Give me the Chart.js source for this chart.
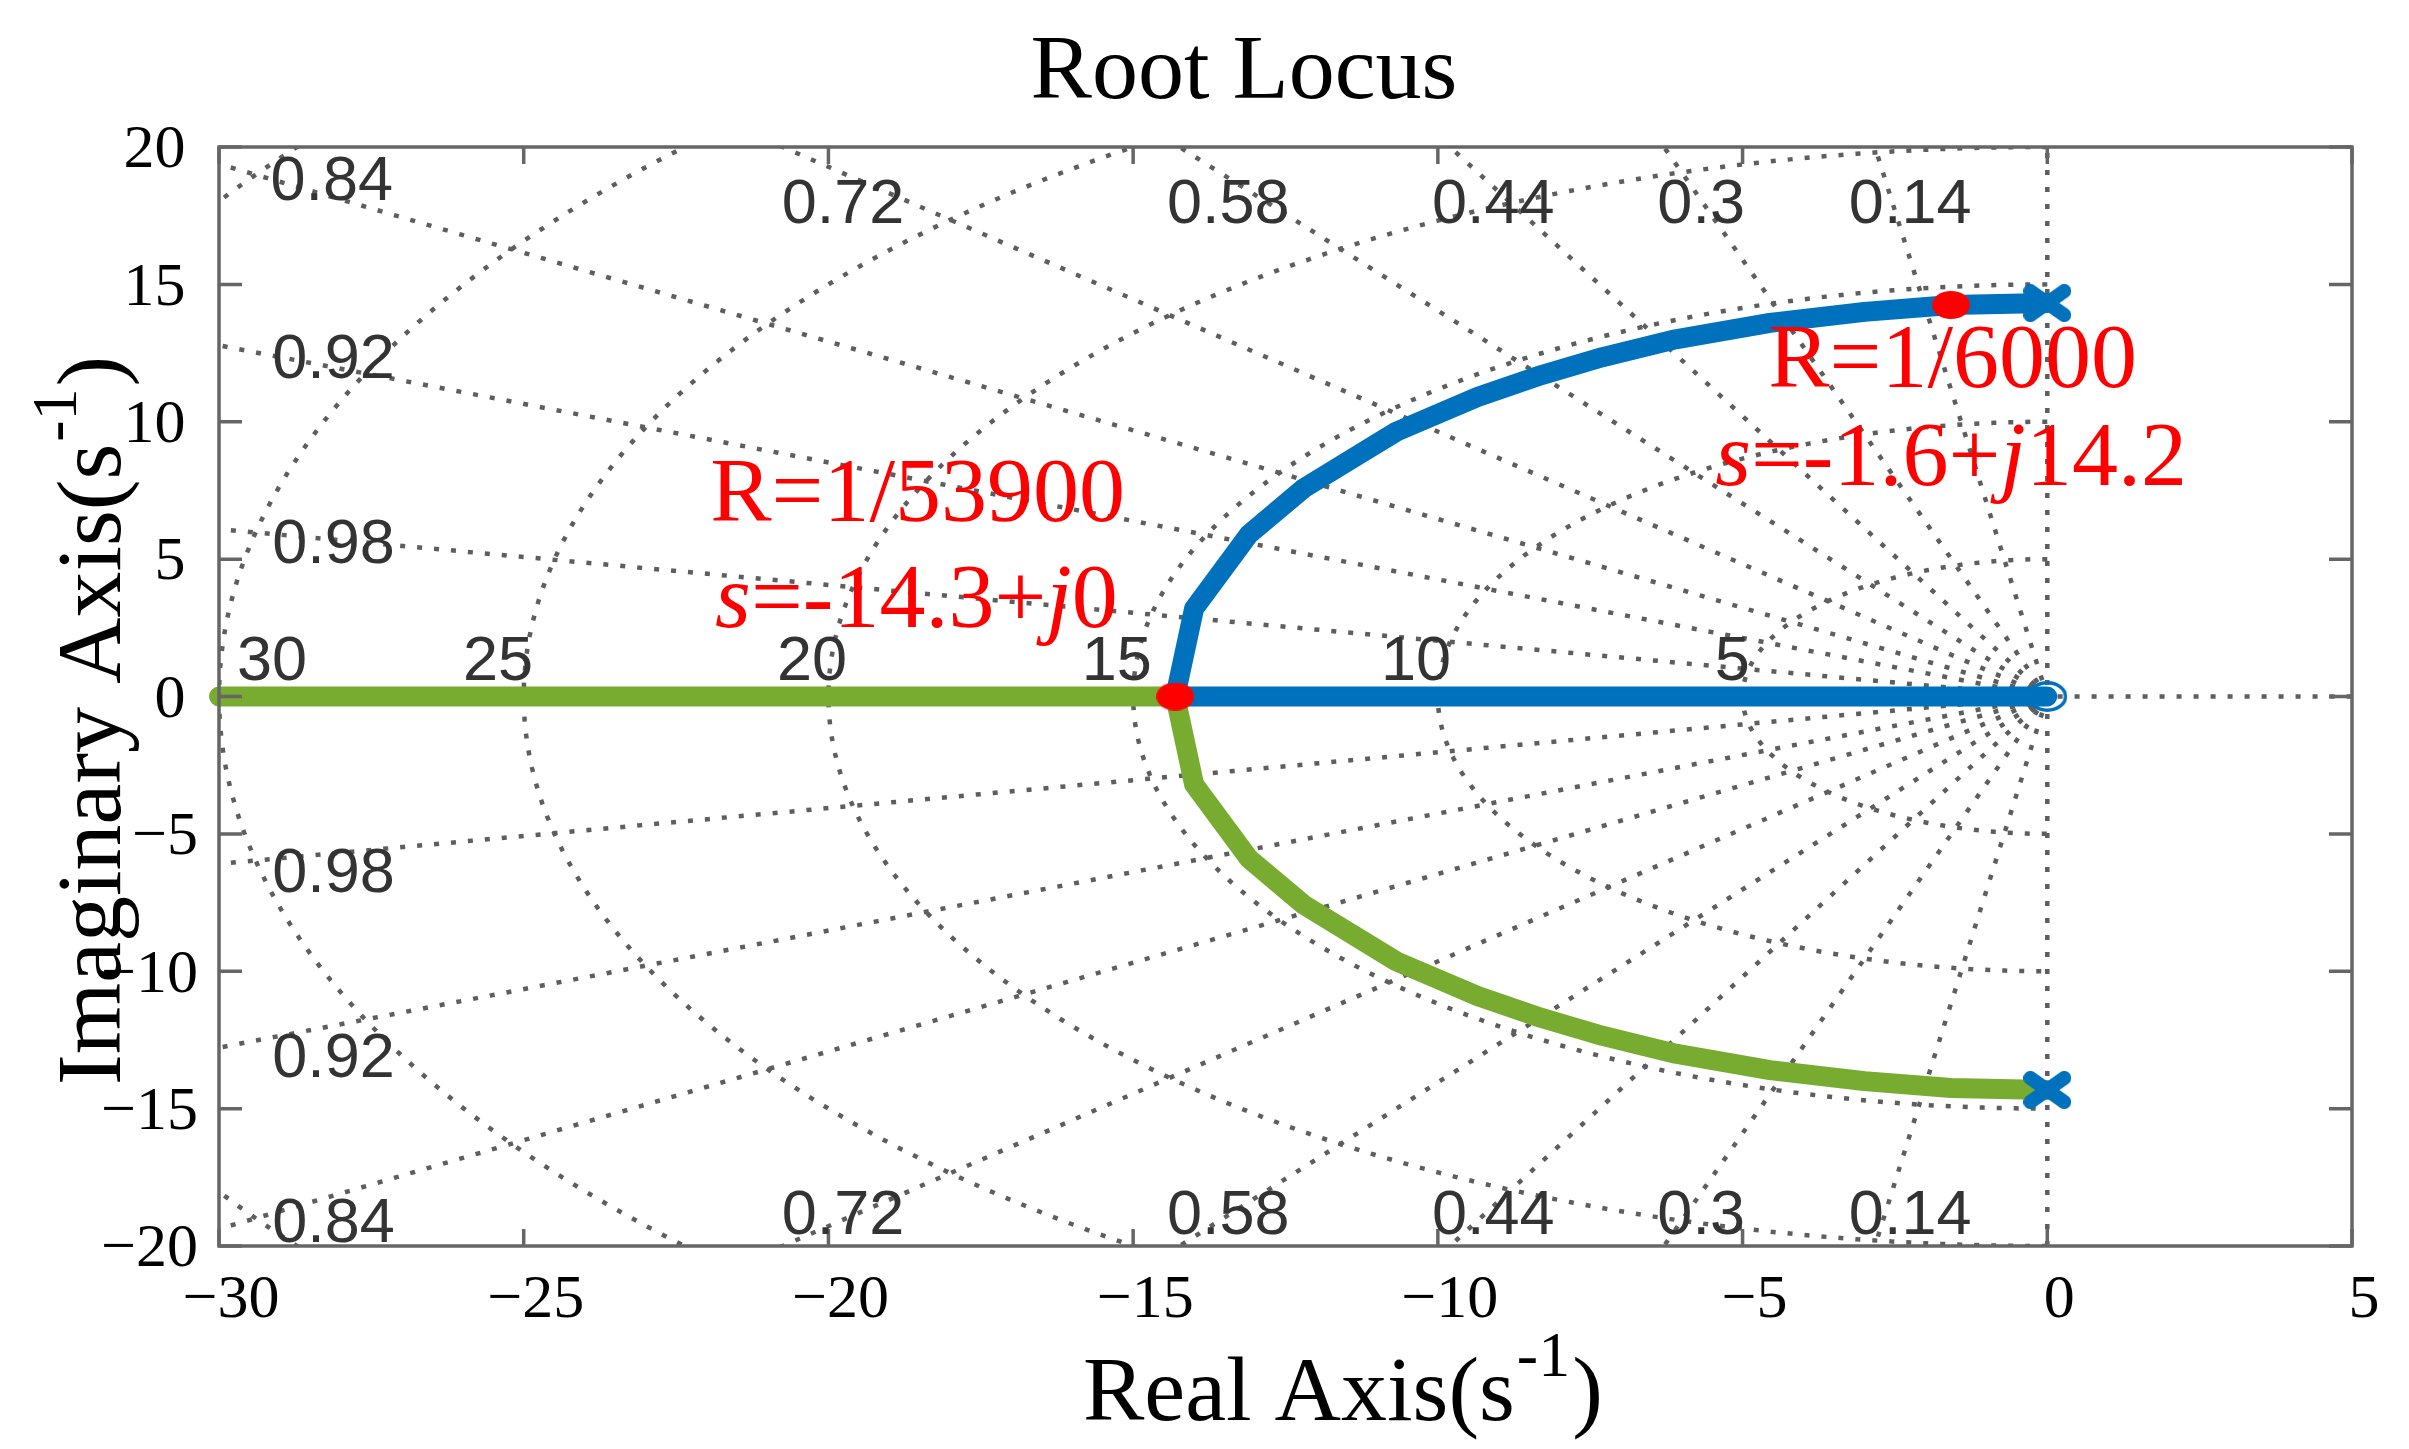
<!DOCTYPE html>
<html>
<head>
<meta charset="utf-8">
<script src="https://cdn.jsdelivr.net/npm/chart.js@4.4.1/dist/chart.umd.min.js"></script>
<style>
  html, body { margin: 0; padding: 0; background: #ffffff; overflow: hidden; }
  #wrap { width: 2409px; height: 1449px; position: relative; }
</style>
</head>
<body>
<div id="wrap"><canvas id="c"></canvas></div>
<script>
// ---------------- data ----------------
const xTicks = [-30, -25, -20, -15, -10, -5, 0, 5];
const yTicks = [-20, -15, -10, -5, 0, 5, 10, 15, 20];

// upper branch: pole (0, +j14.32) -> breakaway (-14.31, 0)
const upperBranchRe = [0, -1.58, -3.0, -4.55, -6.1, -7.3, -8.3, -9.35, -10.68, -12.2, -13.1, -14.0, -14.31];
const upperBranchIm = [14.32, 14.25, 14.0, 13.6, 13.0, 12.35, 11.7, 10.9, 9.64, 7.58, 5.9, 3.2, 0];
// lower branch: pole (0, -j14.32) -> breakaway (-14.31, 0)
const lowerBranchRe = [0, -1.58, -3.0, -4.55, -6.1, -7.3, -8.3, -9.35, -10.68, -12.2, -13.1, -14.0, -14.31];
const lowerBranchIm = [-14.32, -14.25, -14.0, -13.6, -13.0, -12.35, -11.7, -10.9, -9.64, -7.58, -5.9, -3.2, 0];
// real-axis parts
const blueRealRe = [-14.31, 0];
const blueRealIm = [0, 0];
const greenRealRe = [-14.31, -30];
const greenRealIm = [0, 0];
// poles, zero, marked points
const poleRe = [0, 0];
const poleIm = [14.32, -14.32];
const zeroRe = [0];
const zeroIm = [0];
const markedRe = [-1.58, -14.31];
const markedIm = [14.25, 0];
// s-plane grid
const wnValues = [5, 10, 15, 20, 25, 30, 35];
const zetaValues = [0.14, 0.3, 0.44, 0.58, 0.72, 0.84, 0.92, 0.98];

// ---------------- styles ----------------
const SERIF = '"Liberation Serif", "Times New Roman", serif';
const SANS = '"Liberation Sans", Arial, sans-serif';
const BLUE = '#0072BD';
const GREEN = '#77AC30';
const RED = '#FF0000';
const GRID = '#5e5e5e';
const BOX = '#666666';

function pts(re, im) { return re.map((v, i) => ({ x: v, y: im[i] })); }

// grid geometry
function circlePts(r) {
  const out = [];
  for (let k = 0; k <= 180; k++) {
    const a = Math.PI / 2 + Math.PI * k / 180;
    out.push({ x: r * Math.cos(a), y: r * Math.sin(a) });
  }
  return out;
}
function rayPts(z, sign) {
  const L = 60;
  return [{ x: 0, y: 0 }, { x: -z * L, y: sign * Math.sqrt(1 - z * z) * L }];
}

// marker images
function ellipseDot(w, h, color) {
  const c = document.createElement('canvas'); c.width = w; c.height = h;
  const g = c.getContext('2d');
  g.fillStyle = color; g.beginPath(); g.ellipse(w / 2, h / 2, w / 2, h / 2, 0, 0, Math.PI * 2); g.fill();
  return c;
}
function ringMarker(w, h, lw, color) {
  const c = document.createElement('canvas'); c.width = w; c.height = h;
  const g = c.getContext('2d');
  g.strokeStyle = color; g.lineWidth = lw; g.beginPath();
  g.ellipse(w / 2, h / 2, w / 2 - lw / 2, h / 2 - lw / 2, 0, 0, Math.PI * 2); g.stroke();
  return c;
}
function crossMarker(w, h, lw, color) {
  const c = document.createElement('canvas'); c.width = w; c.height = h;
  const g = c.getContext('2d');
  g.strokeStyle = color; g.lineWidth = lw; g.lineCap = 'round';
  const i = lw / 2;
  g.beginPath(); g.moveTo(i, i); g.lineTo(w - i, h - i); g.moveTo(w - i, i); g.lineTo(i, h - i); g.stroke();
  return c;
}

const gridStyle = {
  type: 'scatter', showLine: true, borderColor: GRID, borderWidth: 4.5,
  borderDash: [5, 12], pointRadius: 0, order: 100, fill: false
};

const datasets = [];
wnValues.forEach(r => datasets.push(Object.assign({ data: circlePts(r) }, gridStyle)));
zetaValues.forEach(z => {
  datasets.push(Object.assign({ data: rayPts(z, 1) }, gridStyle));
  datasets.push(Object.assign({ data: rayPts(z, -1) }, gridStyle));
});
datasets.push(Object.assign({ data: [{ x: -40, y: 0 }, { x: 5, y: 0 }] }, gridStyle));
datasets.push(Object.assign({ data: [{ x: 0, y: -20 }, { x: 0, y: 20 }] }, gridStyle));

const locusStyle = {
  type: 'scatter', showLine: true, borderWidth: 20, pointRadius: 0,
  borderCapStyle: 'round', borderJoinStyle: 'round', tension: 0, fill: false, clip: false
};
datasets.push(Object.assign({}, locusStyle, {
  label: 'branch 1', borderColor: BLUE, order: 12,
  data: pts(upperBranchRe, upperBranchIm).concat(pts(blueRealRe, blueRealIm).slice(1))
}));
datasets.push(Object.assign({}, locusStyle, {
  label: 'branch 2', borderColor: GREEN, order: 11,
  data: pts(lowerBranchRe, lowerBranchIm).concat(pts(greenRealRe, greenRealIm).slice(1))
}));
datasets.push({
  type: 'scatter', label: 'poles', data: pts(poleRe, poleIm), showLine: false,
  pointStyle: crossMarker(48, 38, 14, BLUE), pointRadius: 20, order: 3, clip: false
});
datasets.push({
  type: 'scatter', label: 'zero', data: pts(zeroRe, zeroIm), showLine: false,
  pointStyle: ringMarker(40, 31, 3.5, BLUE), pointRadius: 20, order: 3, clip: false
});
datasets.push({
  type: 'scatter', label: 'marked', data: pts(markedRe, markedIm), showLine: false,
  pointStyle: ellipseDot(38, 28, RED), pointRadius: 18, order: 1, clip: false
});

// ---------------- texts ----------------
const gridLabels = [
  ['30', -29.13, 0.6], ['25', -25.42, 0.6], ['20', -20.27, 0.6], ['15', -15.27, 0.6],
  ['10', -10.36, 0.6], ['5', -5.17, 0.6],
  ['0.84', -28.15, 18.07], ['0.72', -19.76, 17.23], ['0.58', -13.44, 17.23], ['0.44', -9.09, 17.23],
  ['0.3', -5.68, 17.23], ['0.14', -2.25, 17.23],
  ['0.92', -28.12, 11.59], ['0.98', -28.12, 4.86],
  ['0.98', -28.12, -7.12], ['0.92', -28.12, -13.85], ['0.84', -28.12, -19.85],
  ['0.72', -19.76, -19.56], ['0.58', -13.44, -19.56], ['0.44', -9.09, -19.56],
  ['0.3', -5.68, -19.56], ['0.14', -2.25, -19.56]
];
const annotations = [
  { x: -21.94, y: 6.39, segs: [['R=1/53900', 'n']] },
  { x: -21.86, y: 2.53, segs: [['s', 'i'], ['=-14.3+', 'n'], ['j', 'i'], ['0', 'n']] },
  { x: -4.58, y: 11.26, segs: [['R=1/6000', 'n']] },
  { x: -5.45, y: 7.70, segs: [['s', 'i'], ['=-1.6+', 'n'], ['j', 'i'], ['14.2', 'n']] }
];

function drawSegs(ctx, x, y, segs, size, color) {
  let cx = x;
  ctx.fillStyle = color; ctx.textAlign = 'left'; ctx.textBaseline = 'alphabetic';
  segs.forEach(([t, st]) => {
    ctx.font = (st === 'i' ? 'italic ' : '') + size + 'px ' + SERIF;
    ctx.fillText(t, cx, y);
    cx += ctx.measureText(t).width;
  });
}
function drawAxisTitle(ctx, x, y, main, size) {
  // main + superscript "-1" + ")"
  let cx = x;
  ctx.fillStyle = '#000'; ctx.textAlign = 'left'; ctx.textBaseline = 'alphabetic';
  ctx.font = size + 'px ' + SERIF;
  ctx.fillText(main, cx, y); cx += ctx.measureText(main).width + 2;
  ctx.font = Math.round(size * 0.7) + 'px ' + SERIF;
  ctx.fillText('-1', cx, y - 44); cx += ctx.measureText('-1').width + 2;
  ctx.font = size + 'px ' + SERIF;
  ctx.fillText(')', cx, y);
}

const decor = {
  id: 'decor',
  beforeDraw(chart) {
    const ctx = chart.ctx;
    ctx.save(); ctx.fillStyle = '#fff'; ctx.fillRect(0, 0, chart.width, chart.height); ctx.restore();
  },
  afterDatasetsDraw(chart) {
    const { ctx, chartArea: a, scales } = chart;
    const sx = scales.x, sy = scales.y;
    ctx.save();
    // box
    ctx.strokeStyle = BOX; ctx.lineWidth = 3.5; ctx.setLineDash([]);
    ctx.strokeRect(a.left, a.top, a.right - a.left, a.bottom - a.top);
    // inner ticks
    ctx.beginPath();
    sx.ticks.forEach(t => {
      const p = sx.getPixelForValue(t.value);
      ctx.moveTo(p, a.bottom); ctx.lineTo(p, a.bottom - 17);
      ctx.moveTo(p, a.top); ctx.lineTo(p, a.top + 17);
    });
    sy.ticks.forEach(t => {
      const p = sy.getPixelForValue(t.value);
      ctx.moveTo(a.left, p); ctx.lineTo(a.left + 23, p);
      ctx.moveTo(a.right, p); ctx.lineTo(a.right - 23, p);
    });
    ctx.stroke();
    // grid labels
    ctx.fillStyle = '#333333'; ctx.font = '63px ' + SANS;
    ctx.textAlign = 'center'; ctx.textBaseline = 'alphabetic';
    gridLabels.forEach(([t, x, y]) => ctx.fillText(t, sx.getPixelForValue(x), sy.getPixelForValue(y)));
    // red annotations
    annotations.forEach(an => drawSegs(ctx, sx.getPixelForValue(an.x), sy.getPixelForValue(an.y), an.segs, 92, RED));
    ctx.restore();
  },
  afterDraw(chart) {
    const ctx = chart.ctx;
    ctx.save();
    // title
    ctx.fillStyle = '#000'; ctx.font = '92px ' + SERIF; ctx.textAlign = 'center'; ctx.textBaseline = 'alphabetic';
    ctx.fillText('Root Locus', 1244, 98);
    // x axis title
    drawAxisTitle(ctx, 1083, 1420, 'Real Axis(s', 92);
    // y axis title (rotated)
    ctx.translate(120, 1085); ctx.rotate(-Math.PI / 2);
    drawAxisTitle(ctx, 0, 0, 'Imaginary Axis(s', 92);
    ctx.restore();
  }
};

const tickFont = { family: SERIF, size: 62 };
const fmt = v => (v < 0 ? '\u2212' + Math.abs(v) : String(v));

new Chart(document.getElementById('c'), {
  type: 'scatter',
  data: { datasets },
  options: {
    responsive: true, maintainAspectRatio: false, animation: false, devicePixelRatio: 1,
    events: [],
    layout: { padding: { top: 147, right: 57, left: 0, bottom: 0 } },
    plugins: { legend: { display: false }, tooltip: { enabled: false }, title: { display: false } },
    scales: {
      x: {
        type: 'linear', min: -30, max: 5,
        afterBuildTicks: s => { s.ticks = xTicks.map(v => ({ value: v })); },
        afterFit: s => { s.height = 203; },
        grid: { display: false, drawTicks: false }, border: { display: false },
        ticks: { font: tickFont, color: '#000', padding: 18, labelOffset: 12, autoSkip: false, maxRotation: 0,
                 callback: v => fmt(v) }
      },
      y: {
        type: 'linear', min: -20, max: 20,
        afterBuildTicks: s => { s.ticks = yTicks.map(v => ({ value: v })); },
        afterFit: s => { s.width = 219; },
        grid: { display: false, drawTicks: false }, border: { display: false },
        ticks: { font: tickFont, color: '#000', padding: 21, labelOffset: 4, autoSkip: false,
                 callback: v => (v < 0 ? fmt(v) : fmt(v) + '\u2009') }
      }
    }
  },
  plugins: [decor]
});
</script>
</body>
</html>
